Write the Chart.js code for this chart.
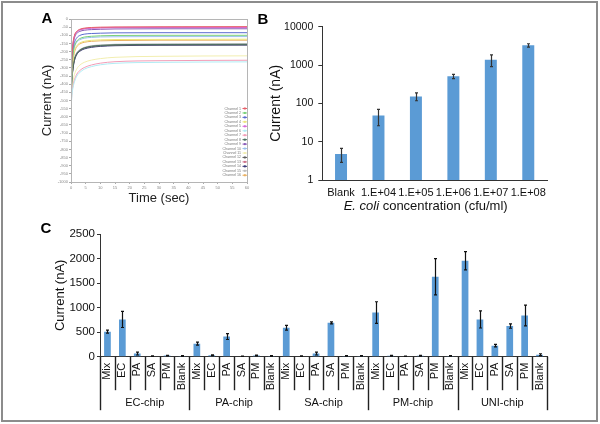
<!DOCTYPE html>
<html><head><meta charset="utf-8">
<script src="https://cdn.jsdelivr.net/npm/chart.js@4.4.1/dist/chart.umd.min.js"></script>
<style>
html,body{margin:0;padding:0;background:#fff;}
body{width:600px;height:424px;position:relative;overflow:hidden;font-family:"Liberation Sans",Arial,sans-serif;}
canvas{position:absolute;}
.frame{position:absolute;left:1px;top:1px;width:597px;height:421px;border:2px solid #8c8c8c;box-sizing:border-box;}
.lab{position:absolute;font:bold 15px "Liberation Sans",Arial,sans-serif;color:#000;transform:translate(-50%,-50%);}
</style></head><body>
<div class="frame"></div>
<canvas id="cA" width="300" height="210" style="left:0;top:0"></canvas>
<canvas id="cB" width="345" height="218" style="left:255px;top:0"></canvas>
<canvas id="cC" width="600" height="210" style="left:0;top:210px"></canvas>
<div class="lab" style="left:47px;top:17px">A</div>
<div class="lab" style="left:263px;top:18px">B</div>
<div class="lab" style="left:46px;top:227px">C</div>
<script>
// ---------- Panel A data ----------
const timeSec = [0, 0.3, 0.7, 1.2, 2, 3, 4.5, 7, 10, 15, 30, 60];
const ch1  = [-505,-260,-150,-100,-75,-63,-56,-52,-50,-49,-48,-47];
const ch2  = [-520,-320,-215,-165,-135,-120,-111,-106,-103,-101,-100,-100];
const ch3  = [-515,-300,-195,-145,-115,-101,-93,-89,-87,-85,-84,-84];
const ch4  = [-525,-345,-250,-195,-163,-147,-137,-131,-128,-126,-125,-124];
const ch5  = [-505,-265,-158,-106,-80,-68,-61,-57,-55,-53,-52,-52];
const ch6  = [-560,-470,-420,-385,-350,-328,-308,-292,-281,-272,-266,-263];
const ch7  = [-555,-460,-408,-372,-338,-316,-298,-282,-271,-262,-256,-253];
const ch8  = [-530,-375,-295,-245,-210,-191,-177,-167,-162,-158,-156,-155];
const ch9  = [-510,-275,-168,-115,-88,-76,-69,-65,-63,-61,-60,-60];
const ch10 = [-520,-330,-225,-172,-142,-127,-118,-113,-110,-109,-108,-108];
const ch11 = [-550,-440,-380,-340,-305,-283,-266,-252,-243,-235,-229,-226];
const ch12 = [-530,-380,-300,-250,-214,-194,-180,-170,-165,-161,-159,-158];
const ch13 = [-505,-262,-153,-103,-78,-66,-59,-55,-53,-51,-50,-50];
const ch14 = [-535,-385,-305,-254,-218,-198,-184,-174,-168,-164,-161,-160];
const ch15 = [-530,-372,-290,-240,-206,-188,-174,-164,-159,-155,-153,-152];
const ch16 = [-525,-350,-258,-203,-170,-153,-143,-137,-134,-132,-130,-130];
const channelNames = ['Channel 1','Channel 2','Channel 3','Channel 4','Channel 5','Channel 6','Channel 7','Channel 8',
  'Channel 9','Channel 10','Channel 11','Channel 12','Channel 13','Channel 14','Channel 15','Channel 16'];
const channelSeries = [ch1,ch2,ch3,ch4,ch5,ch6,ch7,ch8,ch9,ch10,ch11,ch12,ch13,ch14,ch15,ch16];

// ---------- Panel B data ----------
const concLabels = ['Blank','1.E+04','1.E+05','1.E+06','1.E+07','1.E+08'];
const concCurrent = [4.8, 48, 152, 507, 1380, 3260];
const concError = [1.9, 22, 35, 65, 470, 330];
const logTicksB = [1, 10, 100, 1000, 10000];

// ---------- Panel C data ----------
const chips = ['EC-chip','PA-chip','SA-chip','PM-chip','UNI-chip'];
const targets = ['Mix','EC','PA','SA','PM','Blank'];
const ecChip   = [510, 760, 65, 10, 22, 15];
const ecChipErr= [30, 165, 30, 5, 8, 8];
const paChip   = [265, 30, 410, 8, 25, 15];
const paChipErr= [30, 10, 60, 4, 10, 8];
const saChip   = [590, 10, 65, 690, 15, 15];
const saChipErr= [50, 5, 30, 20, 5, 5];
const pmChip   = [900, 20, 8, 20, 1630, 15];
const pmChipErr= [220, 8, 4, 8, 370, 5];
const uniChip  = [1955, 760, 225, 625, 840, 40];
const uniChipErr=[185, 175, 25, 45, 210, 20];
const ticksC = [0, 500, 1000, 1500, 2000, 2500];

// ---------- styles ----------
const FONT = "'Liberation Sans', Arial, sans-serif";
const channelColors = ['#e8606a','#78d078','#5a6ad0','#ece47a','#d868d8','#b0ecf4','#f29cb6','#4a7060',
  '#8a5ab8','#9ac0ec','#f2eeb0','#606060','#cc7088','#3a3a78','#bcbcbc','#eab060'];
const BAR = '#5b9bd5';
const AX = '#333';

function errPlugin(errs, color){
  return { id:'errbars', afterDatasetsDraw(chart){
    const meta = chart.getDatasetMeta(0), ys = chart.scales.y, vals = chart.data.datasets[0].data, ctx = chart.ctx;
    ctx.save(); ctx.strokeStyle = color; ctx.lineWidth = 1.2;
    meta.data.forEach((bar, i) => {
      const v = vals[i], e = errs[i];
      const yt = ys.getPixelForValue(v + e), yb = ys.getPixelForValue(Math.max(v - e, ys.min));
      const x = Math.round(bar.x) + 0.5;
      ctx.beginPath(); ctx.moveTo(x, yt); ctx.lineTo(x, yb);
      ctx.moveTo(x - 1.5, yt); ctx.lineTo(x + 1.5, yt);
      ctx.moveTo(x - 1.5, yb); ctx.lineTo(x + 1.5, yb);
      ctx.stroke();
    });
    ctx.restore();
  }};
}

// ---------- Chart A ----------
const boxPluginA = { id:'boxA', afterDraw(chart){
  const ca = chart.chartArea, ctx = chart.ctx;
  ctx.save(); ctx.strokeStyle = '#b5b5b5'; ctx.lineWidth = 1;
  ctx.strokeRect(ca.left + 0.5, ca.top + 0.5, ca.right - ca.left, ca.bottom - ca.top);
  ctx.font = '3.6px ' + FONT; ctx.textAlign = 'right'; ctx.textBaseline = 'middle';
  chart.data.datasets.forEach((ds, i) => {
    const y = 108.5 + i * 4.45;
    ctx.fillStyle = '#777'; ctx.fillText(ds.label, 241, y);
    ctx.strokeStyle = ds.borderColor; ctx.beginPath(); ctx.moveTo(242.5, y); ctx.lineTo(247, y); ctx.stroke();
    ctx.fillStyle = ds.borderColor; ctx.fillRect(243.8, y - 1, 2, 2);
  });
  ctx.restore();
}};
new Chart(document.getElementById('cA'), {
  type: 'line',
  data: { datasets: channelSeries.map((arr, i) => ({
    label: channelNames[i], data: arr.map((v, j) => ({ x: timeSec[j], y: v })),
    borderColor: channelColors[i], borderWidth: 1, pointRadius: 0, cubicInterpolationMode: 'monotone', fill: false })) },
  options: {
    responsive: false, animation: false, devicePixelRatio: 1,
    layout: { padding: { left: 36, right: 53, top: 19, bottom: 0 } },
    plugins: { legend: { display: false }, tooltip: { enabled: false } },
    scales: {
      x: { type: 'linear', min: 0, max: 60,
        ticks: { stepSize: 5, autoSkip: false, maxRotation: 0, padding: 1, color: '#888', font: { size: 4, family: FONT } },
        grid: { display: true, drawOnChartArea: false, tickLength: 2, color: '#aaa' },
        border: { color: '#aaa' },
        title: { display: true, text: 'Time (sec)', color: '#222', font: { size: 13, family: FONT }, padding: { top: 4, bottom: 4 } },
        afterFit: s => { s.height = 28; } },
      y: { min: -1000, max: 0,
        ticks: { stepSize: 50, autoSkip: false, padding: 1, color: '#888', font: { size: 4, family: FONT }, callback: v => String(v) },
        grid: { display: true, drawOnChartArea: false, tickLength: 2, color: '#aaa' },
        border: { color: '#aaa' },
        title: { display: true, text: 'Current (nA)', color: '#222', font: { size: 13, family: FONT }, padding: { top: 4, bottom: 4 } },
        afterFit: s => { s.width = 35; } }
    }
  },
  plugins: [boxPluginA]
});

// ---------- Chart B ----------
const titlePluginB = { id:'titleB', afterDraw(chart){
  const ca = chart.chartArea, ctx = chart.ctx;
  const a = 'E. coli', b = ' concentration (cfu/ml)';
  ctx.save(); ctx.fillStyle = '#111'; ctx.textBaseline = 'middle'; ctx.textAlign = 'left';
  ctx.font = 'italic 13px ' + FONT; const wa = ctx.measureText(a).width;
  ctx.font = '13px ' + FONT; const wb = ctx.measureText(b).width;
  const cx = (ca.left + ca.right) / 2 - 9, x0 = cx - (wa + wb) / 2, y = 206.5;
  ctx.font = 'italic 13px ' + FONT; ctx.fillText(a, x0, y);
  ctx.font = '13px ' + FONT; ctx.fillText(b, x0 + wa, y);
  ctx.restore();
}};
new Chart(document.getElementById('cB'), {
  type: 'bar',
  data: { labels: concLabels, datasets: [{ data: concCurrent, backgroundColor: BAR, barPercentage: 0.8, categoryPercentage: 0.4 }] },
  options: {
    responsive: false, animation: false, devicePixelRatio: 1,
    layout: { padding: { left: 8.6, right: 53, top: 26.7, bottom: 0 } },
    plugins: { legend: { display: false }, tooltip: { enabled: false } },
    scales: {
      x: { ticks: { color: '#111', padding: 6, maxRotation: 0, autoSkip: false, font: { size: 11, family: FONT } },
        grid: { display: false, drawTicks: false }, border: { display: true, color: AX },
        afterFit: s => { s.height = 38; } },
      y: { type: 'logarithmic', min: 1, max: 10000,
        afterBuildTicks: s => { s.ticks = logTicksB.map(v => ({ value: v })); },
        ticks: { color: '#111', padding: 5, font: { size: 10.5, family: FONT }, callback: v => String(v) },
        grid: { display: true, drawOnChartArea: false, tickLength: 4, color: AX },
        border: { color: AX },
        title: { display: true, text: 'Current (nA)', color: '#111', font: { size: 14, family: FONT }, padding: { top: 4, bottom: 4 } },
        afterFit: s => { s.width = 58.7; } }
    }
  },
  plugins: [errPlugin(concError, '#333'), titlePluginB]
});

// ---------- Chart C ----------
const labelsC = [], valsC = [], errsC = [];
const chipVals = [ecChip, paChip, saChip, pmChip, uniChip];
const chipErrs = [ecChipErr, paChipErr, saChipErr, pmChipErr, uniChipErr];
chips.forEach((c, k) => targets.forEach((t, j) => { labelsC.push(t); valsC.push(chipVals[k][j]); errsC.push(chipErrs[k][j]); }));
const groupPluginC = { id:'groupsC', afterDraw(chart){
  const xs = chart.scales.x, ca = chart.chartArea, ctx = chart.ctx, n = labelsC.length;
  const step = xs.getPixelForValue(1) - xs.getPixelForValue(0);
  ctx.save(); ctx.strokeStyle = '#222'; ctx.lineWidth = 1.4;
  for (let i = 0; i <= n; i++) {
    const x = Math.round(xs.getPixelForValue(0) - step / 2 + i * step) + 0.5;
    const len = (i % targets.length === 0) ? 53.5 : 33.5;
    ctx.beginPath(); ctx.moveTo(x, ca.bottom); ctx.lineTo(x, ca.bottom + len); ctx.stroke();
  }
  ctx.fillStyle = '#111'; ctx.font = '11px ' + FONT; ctx.textAlign = 'center'; ctx.textBaseline = 'middle';
  chips.forEach((c, k) => {
    const cx = (xs.getPixelForValue(k * targets.length) + xs.getPixelForValue(k * targets.length + targets.length - 1)) / 2;
    ctx.fillText(c, cx, ca.bottom + 46.5);
  });
  ctx.restore();
}};
new Chart(document.getElementById('cC'), {
  type: 'bar',
  data: { labels: labelsC, datasets: [{ data: valsC, backgroundColor: BAR, barPercentage: 0.9, categoryPercentage: 0.5 }] },
  options: {
    responsive: false, animation: false, devicePixelRatio: 1,
    layout: { padding: { left: 48.5, right: 53, top: 24, bottom: 0 } },
    plugins: { legend: { display: false }, tooltip: { enabled: false } },
    scales: {
      x: { ticks: { color: '#111', padding: 6, minRotation: 90, maxRotation: 90, autoSkip: false, font: { size: 11, family: FONT } },
        grid: { display: false, drawTicks: false }, border: { display: true, color: AX },
        afterFit: s => { s.height = 63.3; } },
      y: { min: 0, max: 2500,
        afterBuildTicks: s => { s.ticks = ticksC.map(v => ({ value: v })); },
        ticks: { color: '#111', padding: 2, font: { size: 11.5, family: FONT }, callback: v => String(v) },
        grid: { display: true, drawOnChartArea: false, tickLength: 3, color: AX },
        border: { color: AX },
        title: { display: true, text: 'Current (nA)', color: '#111', font: { size: 13, family: FONT }, padding: { top: 4, bottom: 4 } },
        afterFit: s => { s.width = 51.5; } }
    }
  },
  plugins: [errPlugin(errsC, '#111'), groupPluginC]
});
</script>
</body></html>
